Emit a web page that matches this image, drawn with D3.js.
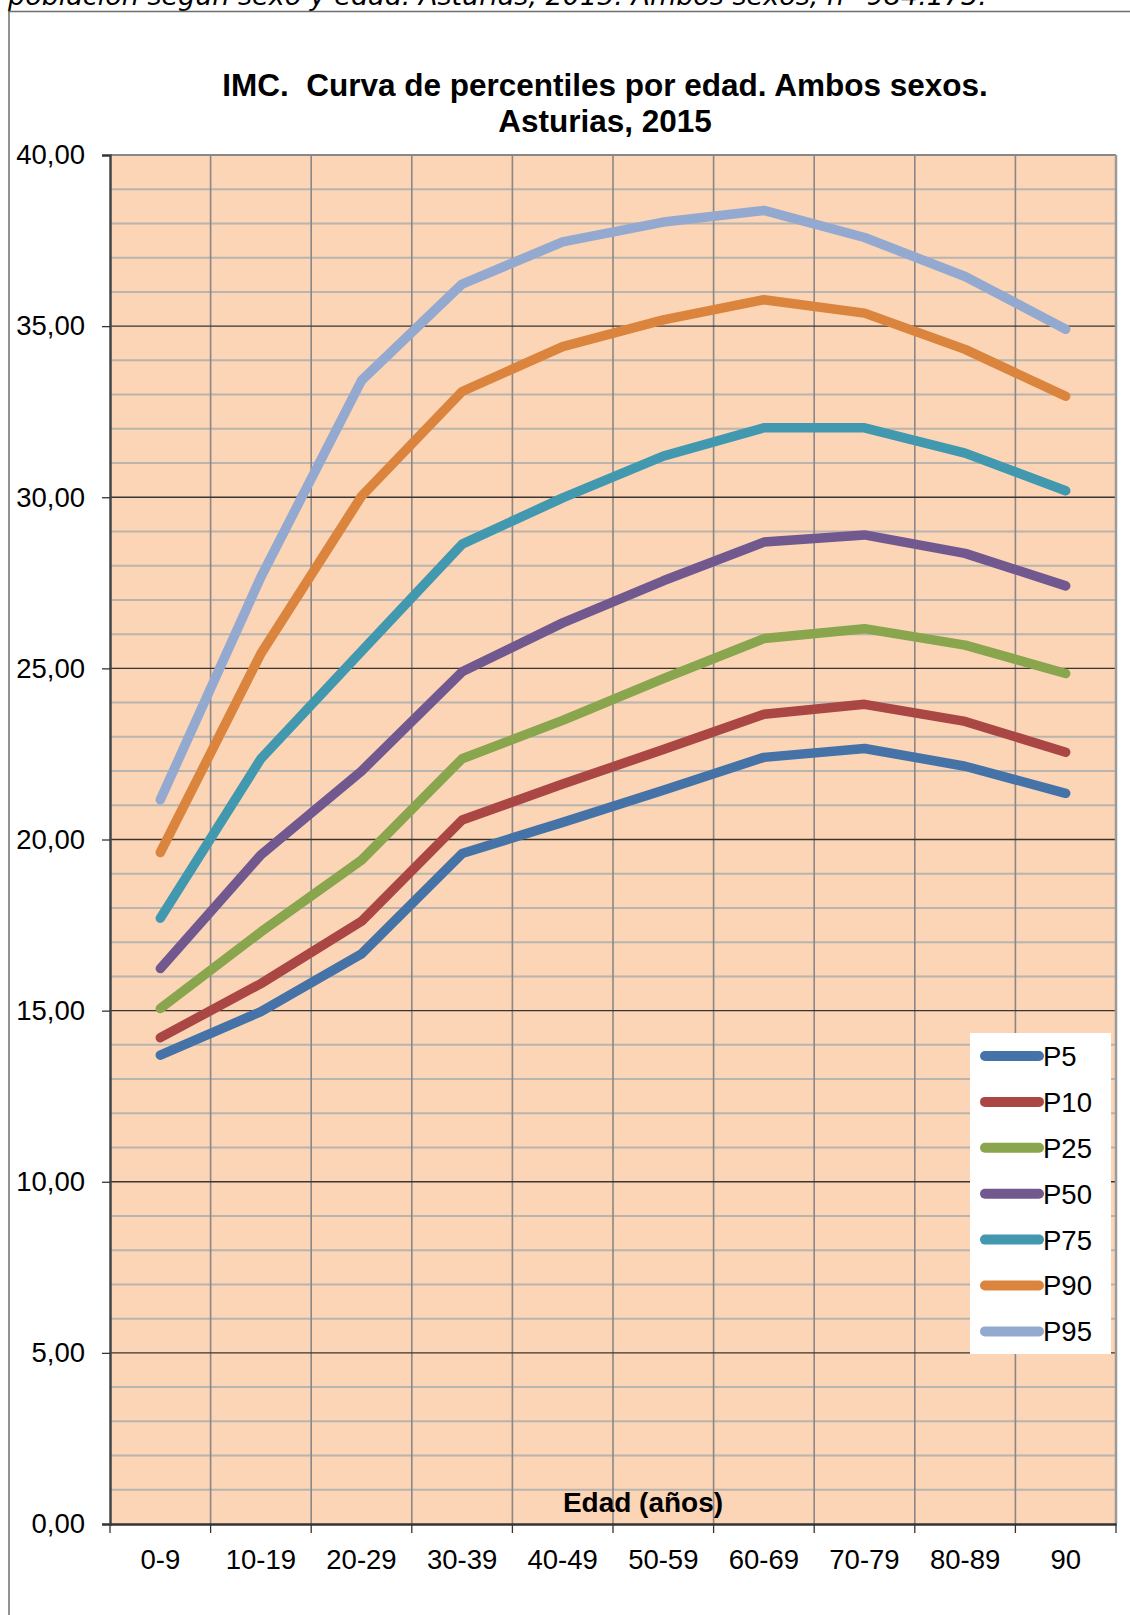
<!DOCTYPE html>
<html>
<head>
<meta charset="utf-8">
<script src="https://cdn.jsdelivr.net/npm/d3@7"></script>
<style>
  html, body { margin: 0; padding: 0; background: #fff; }
  svg { display: block; }
</style>
</head>
<body>
<svg id="chart" width="1130" height="1615"></svg>
<script>
// ---- DATA ----
const categories = ["0-9","10-19","20-29","30-39","40-49","50-59","60-69","70-79","80-89","90"];
const seriesNames = ["P5","P10","P25","P50","P75","P90","P95"];
const P5  = [13.70, 14.97, 16.66, 19.59, 20.50, 21.44, 22.40, 22.66, 22.14, 21.35];
const P10 = [14.21, 15.79, 17.61, 20.57, 21.62, 22.63, 23.66, 23.95, 23.45, 22.55];
const P25 = [15.06, 17.30, 19.40, 22.36, 23.48, 24.70, 25.87, 26.16, 25.68, 24.85];
const P50 = [16.23, 19.55, 22.00, 24.90, 26.33, 27.56, 28.69, 28.90, 28.36, 27.41];
const P75 = [17.70, 22.36, 25.50, 28.63, 29.98, 31.20, 32.03, 32.03, 31.29, 30.19];
const P90 = [19.62, 25.43, 30.03, 33.09, 34.40, 35.18, 35.77, 35.38, 34.32, 32.95];
const P95 = [21.16, 27.67, 33.41, 36.23, 37.46, 38.04, 38.38, 37.59, 36.45, 34.91];
const seriesValues = [P5, P10, P25, P50, P75, P90, P95];
const seriesColors = ["#4572A7","#AA4643","#89A54E","#71588F","#4198AF","#DB843D","#93A9CF"];
const yTicks = [0, 5, 10, 15, 20, 25, 30, 35, 40];
const yMinor = d3.range(0, 41, 1);
const headerText = "población según sexo y edad. Asturias, 2015. Ambos sexos, n=984.173.";
const titleLines = ["IMC.\u00a0 Curva de percentiles por edad. Ambos sexos.", "Asturias, 2015"];
const xTitle = "Edad (años)";

// ---- LAYOUT ----
const svg = d3.select("#chart");
const L = 110, R = 1116, T = 155, B = 1524;
const x = d3.scaleBand().domain(categories).range([L, R]).padding(0);
const y = d3.scaleLinear().domain([0, 40]).range([B, T]);
const cx = c => x(c) + x.bandwidth() / 2;
const es = d3.formatLocale({decimal: ",", thousands: ".", grouping: [3], currency: ["", "€"]});
const fmt = es.format(".2f");
const FONT = "'Liberation Sans', Arial, sans-serif";

// header (cut-off at the top, as in the source page) and frame
svg.append("text")
  .attr("x", 8).attr("y", 5)
  .attr("font-family", "'DejaVu Sans', Verdana, sans-serif")
  .attr("font-style", "italic")
  .attr("font-size", 27)
  .attr("fill", "#000")
  .text(headerText);
svg.append("line").attr("x1", 8).attr("x2", 1130).attr("y1", 11.5).attr("y2", 11.5)
  .attr("stroke", "#6e6e6e").attr("stroke-width", 1.5);
svg.append("line").attr("x1", 9).attr("x2", 9).attr("y1", 11).attr("y2", 1615)
  .attr("stroke", "#6e6e6e").attr("stroke-width", 1.5);

// title
const title = svg.append("text").attr("text-anchor", "middle")
  .attr("font-family", FONT).attr("font-weight", "bold").attr("font-size", 31.5).attr("fill", "#000");
titleLines.forEach((t, i) => {
  title.append("tspan").attr("x", 605).attr("y", 96 + i * 36).text(t);
});

// plot background
svg.append("rect").attr("x", L).attr("y", T).attr("width", R - L).attr("height", B - T)
  .attr("fill", "#FBD5B5");

// minor horizontal gridlines
svg.append("g").selectAll("line").data(yMinor.filter(v => v % 5 !== 0)).join("line")
  .attr("x1", L).attr("x2", R).attr("y1", d => y(d)).attr("y2", d => y(d))
  .attr("stroke", "#b9b4ae").attr("stroke-width", 2);

// vertical gridlines at category boundaries
svg.append("g").selectAll("line").data(categories.slice(1)).join("line")
  .attr("x1", d => x(d)).attr("x2", d => x(d)).attr("y1", T).attr("y2", B)
  .attr("stroke", "#8a8786").attr("stroke-width", 1.6);

// major horizontal gridlines
svg.append("g").selectAll("line").data(yTicks.filter(v => v > 0 && v < 40)).join("line")
  .attr("x1", L).attr("x2", R).attr("y1", d => y(d)).attr("y2", d => y(d))
  .attr("stroke", "#3a3532").attr("stroke-width", 1.4);

// plot border (top, right)
svg.append("line").attr("x1", L).attr("x2", R).attr("y1", T).attr("y2", T)
  .attr("stroke", "#888").attr("stroke-width", 2);
svg.append("line").attr("x1", R).attr("x2", R).attr("y1", T).attr("y2", B)
  .attr("stroke", "#9a9a9a").attr("stroke-width", 2.5);

// y axis
const yAxis = svg.append("g").attr("transform", `translate(${L},0)`)
  .call(d3.axisLeft(y).tickValues(yTicks).tickFormat(fmt).tickSize(8).tickPadding(17));
yAxis.select(".domain").attr("stroke", "#444").attr("stroke-width", 2.5);
yAxis.selectAll(".tick line").attr("stroke", "#333").attr("stroke-width", 1.3);
yAxis.selectAll(".tick text").attr("font-family", FONT).attr("font-size", 27.5).attr("fill", "#000");

// x axis (labels at centers)
const xAxis = svg.append("g").attr("transform", `translate(0,${B})`)
  .call(d3.axisBottom(x).tickSize(0).tickPadding(25));
xAxis.select(".domain").attr("stroke", "#333").attr("stroke-width", 2.5);
xAxis.selectAll(".tick text").attr("font-family", FONT).attr("font-size", 27.5).attr("fill", "#000");

// x boundary ticks
svg.append("g").selectAll("line").data(categories.map(c => x(c)).concat([R])).join("line")
  .attr("x1", d => d).attr("x2", d => d).attr("y1", B).attr("y2", B + 9)
  .attr("stroke", "#333").attr("stroke-width", 1.3);

// x axis title
svg.append("text").attr("x", 643).attr("y", 1512).attr("text-anchor", "middle")
  .attr("font-family", FONT).attr("font-weight", "bold").attr("font-size", 28).attr("fill", "#000")
  .text(xTitle);

// lines
const line = d3.line().x((d, i) => cx(categories[i])).y(d => y(d));
svg.append("g").selectAll("path").data(seriesValues).join("path")
  .attr("d", d => line(d))
  .attr("fill", "none")
  .attr("stroke", (d, i) => seriesColors[i])
  .attr("stroke-width", 9.5)
  .attr("stroke-linecap", "round")
  .attr("stroke-linejoin", "round");

// legend
const lg = svg.append("g");
lg.append("rect").attr("x", 970).attr("y", 1033).attr("width", 141).attr("height", 321).attr("fill", "#fff");
seriesNames.forEach((n, i) => {
  const yy = 1056 + i * 45.9;
  lg.append("line").attr("x1", 985).attr("x2", 1039).attr("y1", yy).attr("y2", yy)
    .attr("stroke", seriesColors[i]).attr("stroke-width", 10).attr("stroke-linecap", "round");
  lg.append("text").attr("x", 1043).attr("y", yy).attr("dy", "0.36em")
    .attr("font-family", FONT).attr("font-size", 27.5).attr("fill", "#000").text(n);
});
</script>
</body>
</html>
